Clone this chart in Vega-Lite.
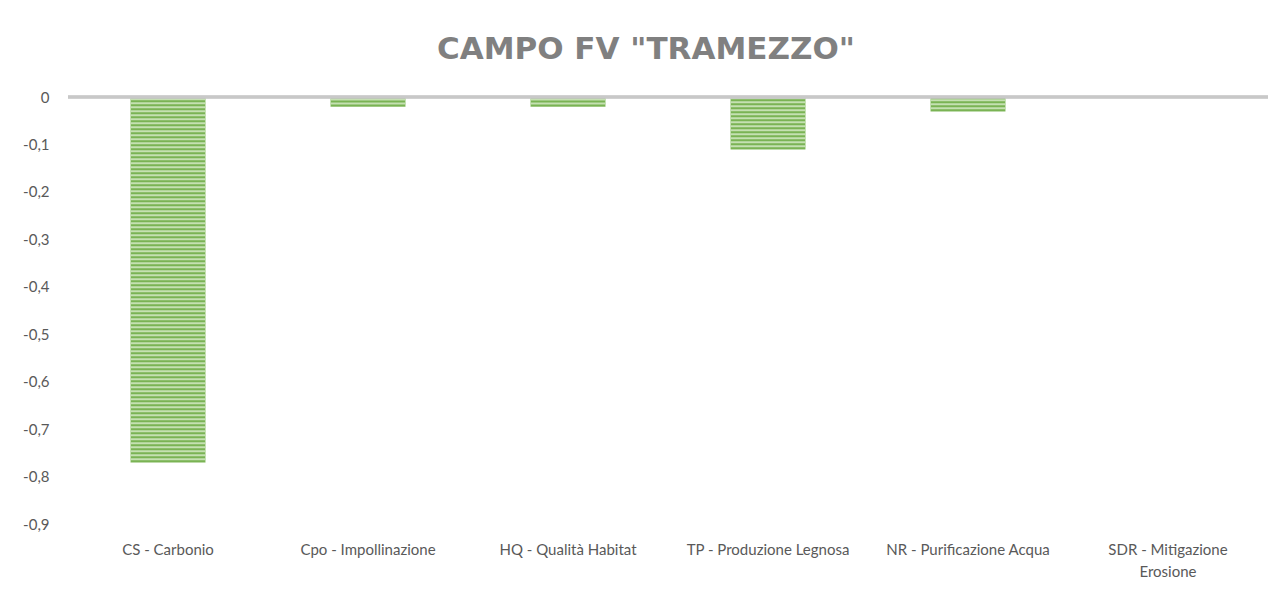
{
  "$schema": "https://vega.github.io/schema/vega-lite/v6.json",
  "autosize": "none",
  "width": 1200,
  "height": 427,
  "padding": {"left": 68, "top": 97, "right": 16, "bottom": 66},
  "background": "white",
  "config": {"view": {"stroke": null}},
  "title": {
    "text": "CAMPO FV \"TRAMEZZO\"",
    "anchor": "middle",
    "frame": "bounds",
    "font": "DejaVu Sans",
    "fontSize": 31,
    "fontWeight": "bold",
    "color": "#808080",
    "baseline": "alphabetic",
    "offset": -30
  },
  "data": {
    "values": [
      {"cat": "CS - Carbonio", "value": -0.77},
      {"cat": "Cpo - Impollinazione", "value": -0.02},
      {"cat": "HQ - Qualità Habitat", "value": -0.02},
      {"cat": "TP - Produzione Legnosa", "value": -0.11},
      {"cat": "NR - Purificazione Acqua", "value": -0.03},
      {"cat": "SDR - Mitigazione Erosione", "value": 0}
    ]
  },
  "encoding": {
    "x": {
      "field": "cat",
      "type": "nominal",
      "sort": null,
      "scale": {"paddingInner": 0.625, "paddingOuter": 0.3125},
      "axis": {
        "title": null,
        "orient": "bottom",
        "domain": false,
        "ticks": false,
        "labelAngle": 0,
        "labelPadding": 18,
        "labelFont": "Lato",
        "labelFontSize": 15,
        "labelColor": "#595959",
        "labelLineHeight": 22,
        "labelLimit": 300,
        "labelExpr": "datum.label == 'SDR - Mitigazione Erosione' ? ['SDR - Mitigazione', 'Erosione'] : datum.label"
      }
    }
  },
  "layer": [
    {
      "mark": {"type": "bar", "color": "#C5E0B2", "stroke": "#A9D18E", "strokeWidth": 0.5},
      "encoding": {
        "y": {
          "field": "value",
          "type": "quantitative",
          "scale": {"domain": [-0.9, 0], "nice": false, "zero": true},
          "axis": {
            "title": null,
            "values": [0, -0.1, -0.2, -0.3, -0.4, -0.5, -0.6, -0.7, -0.8, -0.9],
            "domain": false,
            "ticks": false,
            "grid": false,
            "labelPadding": 19,
            "labelFont": "Lato",
            "labelFontSize": 15,
            "labelColor": "#595959",
            "labelExpr": "datum.value == 0 ? '0' : '-' + replace(format(-datum.value, '.1f'), '.', ',')"
          }
        },
        "y2": {"datum": 0}
      }
    },
    {
      "mark": {"type": "rule", "color": "#7AB354", "strokeWidth": 74, "strokeDash": [2, 2], "strokeCap": "butt"},
      "encoding": {
        "y": {"field": "value", "type": "quantitative"},
        "y2": {"datum": 0}
      }
    },
    {
      "mark": {"type": "rule", "color": "#C8C8C8", "strokeWidth": 2.5},
      "encoding": {
        "y": {"datum": 0},
        "x": {"value": 0},
        "x2": {"value": 1200}
      }
    }
  ]
}
